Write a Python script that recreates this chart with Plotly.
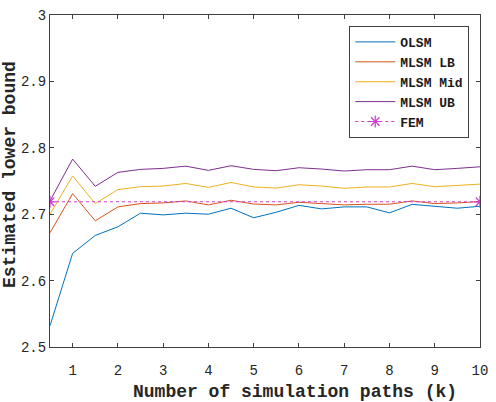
import plotly.graph_objects as go

x = [0.5, 1, 1.5, 2, 2.5, 3, 3.5, 4, 4.5, 5, 5.5, 6, 6.5, 7, 7.5, 8, 8.5, 9, 9.5, 10]
olsm = [2.532, 2.641, 2.668, 2.681, 2.7015, 2.699, 2.7015, 2.700, 2.709, 2.6946,
        2.703, 2.7133, 2.708, 2.711, 2.711, 2.702, 2.7148, 2.712, 2.709, 2.712]
mlsm_lb = [2.672, 2.731, 2.690, 2.711, 2.716, 2.717, 2.720, 2.714, 2.721, 2.7153,
           2.714, 2.718, 2.716, 2.714, 2.715, 2.715, 2.720, 2.716, 2.717, 2.719]
mlsm_mid = [2.700, 2.7576, 2.716, 2.737, 2.7414, 2.7424, 2.7463, 2.7404, 2.7478, 2.741,
            2.7394, 2.7443, 2.7424, 2.739, 2.741, 2.741, 2.7463, 2.7414, 2.7433, 2.7453]
mlsm_ub = [2.720, 2.783, 2.742, 2.763, 2.7675, 2.769, 2.7724, 2.766, 2.773, 2.7675,
           2.7655, 2.770, 2.768, 2.765, 2.767, 2.767, 2.7724, 2.767, 2.769, 2.7714]
fem_x = [0.5, 10]
fem_y = [2.7187, 2.7187]

x_ticks = [1, 2, 3, 4, 5, 6, 7, 8, 9, 10]
y_ticks = [2.5, 2.6, 2.7, 2.8, 2.9, 3]
y_tick_text = ["2.5", "2.6", "2.7", "2.8", "2.9", "3"]

FONT = "Liberation Mono, Courier New, monospace"
AX = "#404040"

fig = go.Figure()
for name, ys, col in [("OLSM", olsm, "#0072BD"), ("MLSM LB", mlsm_lb, "#D95319"),
                      ("MLSM Mid", mlsm_mid, "#EDB120"), ("MLSM UB", mlsm_ub, "#7E2F8E")]:
    fig.add_trace(go.Scatter(x=x, y=ys, mode="lines", name=name,
                             line=dict(color=col, width=1)))
fig.add_trace(go.Scatter(x=fem_x, y=fem_y, mode="lines+markers", name="FEM",
                         line=dict(color="#D03CD0", width=1, dash="dot"),
                         marker=dict(symbol="asterisk-open", size=10,
                                     line=dict(color="#D03CD0", width=1.2))))

fig.update_layout(
    width=496, height=402,
    margin=dict(l=50, r=8, t=13, b=55),
    paper_bgcolor="white", plot_bgcolor="white",
    font=dict(family=FONT, size=14, color="#262626"),
    showlegend=True,
    legend=dict(x=0.975, y=0.967, xanchor="right", yanchor="top",
                bgcolor="white", bordercolor=AX, borderwidth=1,
                font=dict(family=FONT, size=13, color="#1a1a1a", weight="bold"),
                tracegroupgap=0, itemwidth=40),
)
fig.update_xaxes(range=[0.5, 10], tickvals=x_ticks, ticks="inside", ticklen=4,
                 showline=True, mirror="ticks", linecolor=AX, linewidth=1,
                 tickcolor=AX, showgrid=False, zeroline=False, ticklabelstandoff=10,
                 tickfont=dict(family=FONT, size=14, color="#262626"))
fig.update_yaxes(range=[2.5, 3], tickvals=y_ticks, ticktext=y_tick_text,
                 ticks="inside", ticklen=4,
                 showline=True, mirror="ticks", linecolor=AX, linewidth=1,
                 tickcolor=AX, showgrid=False, zeroline=False,
                 tickfont=dict(family=FONT, size=14, color="#262626"))

fig.add_annotation(text="Number of simulation paths (k)", xref="paper", yref="paper",
                   x=0.57, y=-0.1, xanchor="center", yanchor="top", showarrow=False,
                   font=dict(family=FONT, size=18, color="#262626", weight="bold"))
fig.add_annotation(text="Estimated lower bound", xref="paper", yref="paper",
                   x=-0.093, y=0.518, xanchor="center", yanchor="middle", showarrow=False,
                   textangle=-90,
                   font=dict(family=FONT, size=18, color="#262626", weight="bold"))

fig.write_html("out.html")
